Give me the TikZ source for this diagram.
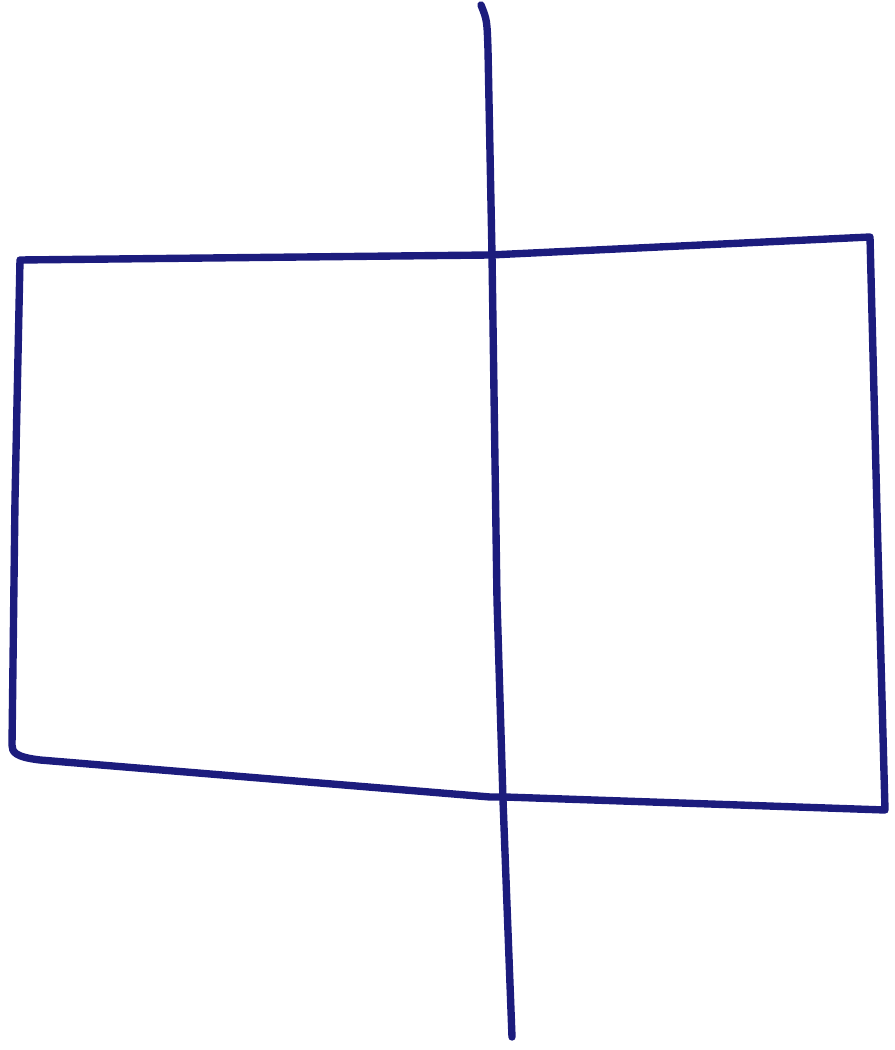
\documentclass[tikz,border=0pt]{standalone}
\usepackage{tikz}
\usetikzlibrary{calc}
\definecolor{inkblue}{RGB}{28,28,125}

\begin{document}
\begin{tikzpicture}[line width=2.1pt, line cap=round, line join=round]
    \useasboundingbox (0,0) rectangle (8.95,10.5);
    % Corners of the frame
    \coordinate (tl) at (0.20,7.90);
    \coordinate (tr) at (8.70,8.13);
    \coordinate (br) at (8.85,2.40);
    \coordinate (bm) at (5.05,2.53);
    \coordinate (bl) at (0.12,3.05);

    % Frame
    \draw[inkblue] (tl) -- (4.90,7.95) -- (tr) -- (8.78,5.00) -- (br)
        -- (bm) -- (4.90,2.53) -- (0.40,2.90)
        .. controls (0.15,2.93) and (0.12,2.98) .. (bl) -- (0.15,5.5) -- cycle;

    % Axis through the frame
    \coordinate (top) at (4.81,10.45);
    \coordinate (bot) at (5.12,0.13);
    \draw[inkblue] (top) .. controls (4.87,10.3) .. (4.88,10.0)
        -- (4.92,7.95) -- (4.97,4.50) -- (5.03,2.50) -- (bot);
\end{tikzpicture}
\end{document}
